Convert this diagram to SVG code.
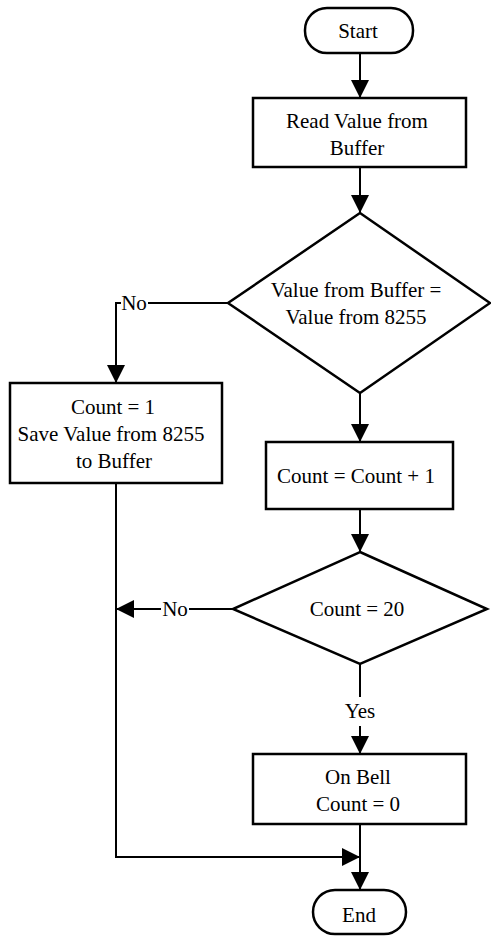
<svg xmlns="http://www.w3.org/2000/svg" width="491" height="936" viewBox="0 0 491 936">
<style>
.s{fill:#fff;stroke:#000;stroke-width:2.5}
.c{fill:none;stroke:#000;stroke-width:2}
text{font-family:"Liberation Serif","Times New Roman",serif;font-size:21px;fill:#000;text-anchor:middle}
</style>
<defs>
<marker id="ah" markerUnits="userSpaceOnUse" markerWidth="18" markerHeight="18" refX="18" refY="9" orient="auto" viewBox="0 0 18 18">
<path d="M0,0 L18,9 L0,18 z" fill="#000"/>
</marker>
</defs>
<rect width="491" height="936" fill="#fff"/>
<g id="connectors">
<line class="c" x1="360" y1="53" x2="360" y2="98" marker-end="url(#ah)"/>
<line class="c" x1="360" y1="167" x2="360" y2="213" marker-end="url(#ah)"/>
<polyline class="c" points="228,303 148,303"/>
<polyline class="c" points="121,303 116,303 116,383" marker-end="url(#ah)"/>
<line class="c" x1="360" y1="393" x2="360" y2="442" marker-end="url(#ah)"/>
<line class="c" x1="360" y1="509" x2="360" y2="552" marker-end="url(#ah)"/>
<line class="c" x1="233" y1="609" x2="189" y2="609"/>
<line class="c" x1="161" y1="609" x2="116" y2="609" marker-end="url(#ah)"/>
<line class="c" x1="360" y1="664" x2="360" y2="697"/>
<line class="c" x1="360" y1="726" x2="360" y2="754" marker-end="url(#ah)"/>
<polyline class="c" points="116,483 116,857 360,857" marker-end="url(#ah)"/>
<line class="c" x1="360" y1="824" x2="360" y2="890" marker-end="url(#ah)"/>
<text x="134" y="310">No</text>
<text x="175" y="616">No</text>
<text x="360" y="718">Yes</text>
</g>
<g id="start">
<rect class="s" x="305" y="8" width="108" height="45" rx="22"/>
<text x="358" y="38">Start</text>
</g>
<g id="read">
<rect class="s" x="253" y="98" width="213" height="69"/>
<text x="357" y="128">Read Value from</text>
<text x="357" y="155">Buffer</text>
</g>
<g id="cmp1">
<polygon class="s" points="360,213 490,303 360,393 228,303"/>
<text x="356" y="297">Value from Buffer =</text>
<text x="356" y="324">Value from 8255</text>
</g>
<g id="save">
<rect class="s" x="10" y="383" width="212" height="100"/>
<text x="113" y="414">Count = 1</text>
<text x="111" y="441">Save Value from 8255</text>
<text x="114" y="468">to Buffer</text>
</g>
<g id="inc">
<rect class="s" x="266" y="442" width="187" height="67"/>
<text x="356" y="483">Count = Count + 1</text>
</g>
<g id="cmp2">
<polygon class="s" points="360,552 487,609 360,664 233,609"/>
<text x="357" y="616">Count = 20</text>
</g>
<g id="bell">
<rect class="s" x="253" y="754" width="213" height="70"/>
<text x="358" y="784">On Bell</text>
<text x="358" y="811">Count = 0</text>
</g>
<g id="end">
<rect class="s" x="313" y="890" width="93" height="44" rx="22"/>
<text x="359" y="922">End</text>
</g>
</svg>
